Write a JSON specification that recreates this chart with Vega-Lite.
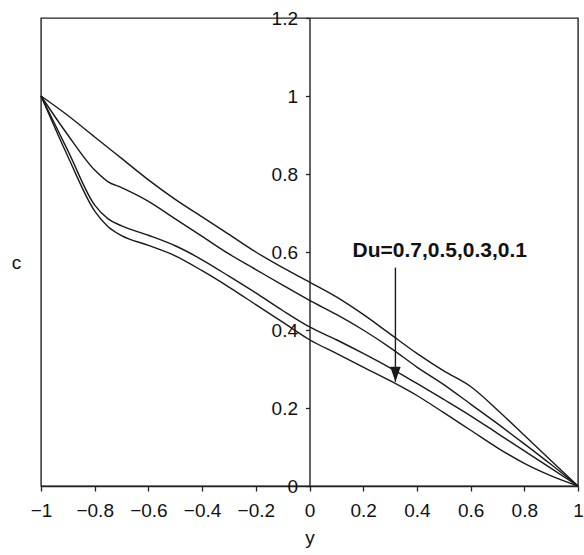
{
  "$schema": "https://vega.github.io/schema/vega-lite/v6.json",
  "width": 537,
  "height": 468,
  "autosize": {"type": "none"},
  "padding": {"left": 41, "top": 18, "right": 6, "bottom": 69},
  "background": "white",
  "config": {
    "view": {"stroke": "#222", "strokeWidth": 1.4},
    "font": "Liberation Sans",
    "axis": {"labelFont": "Liberation Sans", "titleFont": "Liberation Sans", "labelColor": "#111", "titleColor": "#111", "grid": false}
  },
  "datasets": {
    "curves": [
      {"y": -1, "c": 1.0, "s": "Du=0.7"}, {"y": -0.9, "c": 0.95, "s": "Du=0.7"}, {"y": -0.8, "c": 0.895, "s": "Du=0.7"}, {"y": -0.7, "c": 0.84, "s": "Du=0.7"}, {"y": -0.6, "c": 0.785, "s": "Du=0.7"}, {"y": -0.5, "c": 0.735, "s": "Du=0.7"}, {"y": -0.4, "c": 0.69, "s": "Du=0.7"}, {"y": -0.3, "c": 0.645, "s": "Du=0.7"}, {"y": -0.2, "c": 0.6, "s": "Du=0.7"}, {"y": -0.1, "c": 0.56, "s": "Du=0.7"}, {"y": 0, "c": 0.523, "s": "Du=0.7"}, {"y": 0.1, "c": 0.485, "s": "Du=0.7"}, {"y": 0.2, "c": 0.44, "s": "Du=0.7"}, {"y": 0.3, "c": 0.39, "s": "Du=0.7"}, {"y": 0.4, "c": 0.34, "s": "Du=0.7"}, {"y": 0.5, "c": 0.295, "s": "Du=0.7"}, {"y": 0.6, "c": 0.255, "s": "Du=0.7"}, {"y": 0.7, "c": 0.195, "s": "Du=0.7"}, {"y": 0.8, "c": 0.13, "s": "Du=0.7"}, {"y": 0.9, "c": 0.065, "s": "Du=0.7"}, {"y": 1, "c": 0.0, "s": "Du=0.7"},
      {"y": -1, "c": 1.0, "s": "Du=0.5"}, {"y": -0.9, "c": 0.9, "s": "Du=0.5"}, {"y": -0.8, "c": 0.81, "s": "Du=0.5"}, {"y": -0.75, "c": 0.78, "s": "Du=0.5"}, {"y": -0.7, "c": 0.765, "s": "Du=0.5"}, {"y": -0.6, "c": 0.73, "s": "Du=0.5"}, {"y": -0.5, "c": 0.685, "s": "Du=0.5"}, {"y": -0.4, "c": 0.64, "s": "Du=0.5"}, {"y": -0.3, "c": 0.595, "s": "Du=0.5"}, {"y": -0.2, "c": 0.555, "s": "Du=0.5"}, {"y": -0.1, "c": 0.515, "s": "Du=0.5"}, {"y": 0, "c": 0.476, "s": "Du=0.5"}, {"y": 0.1, "c": 0.44, "s": "Du=0.5"}, {"y": 0.2, "c": 0.4, "s": "Du=0.5"}, {"y": 0.3, "c": 0.355, "s": "Du=0.5"}, {"y": 0.4, "c": 0.305, "s": "Du=0.5"}, {"y": 0.5, "c": 0.26, "s": "Du=0.5"}, {"y": 0.6, "c": 0.21, "s": "Du=0.5"}, {"y": 0.7, "c": 0.16, "s": "Du=0.5"}, {"y": 0.8, "c": 0.108, "s": "Du=0.5"}, {"y": 0.9, "c": 0.055, "s": "Du=0.5"}, {"y": 1, "c": 0.0, "s": "Du=0.5"},
      {"y": -1, "c": 1.0, "s": "Du=0.3"}, {"y": -0.9, "c": 0.86, "s": "Du=0.3"}, {"y": -0.8, "c": 0.72, "s": "Du=0.3"}, {"y": -0.75, "c": 0.685, "s": "Du=0.3"}, {"y": -0.7, "c": 0.667, "s": "Du=0.3"}, {"y": -0.6, "c": 0.643, "s": "Du=0.3"}, {"y": -0.5, "c": 0.616, "s": "Du=0.3"}, {"y": -0.4, "c": 0.58, "s": "Du=0.3"}, {"y": -0.3, "c": 0.538, "s": "Du=0.3"}, {"y": -0.2, "c": 0.495, "s": "Du=0.3"}, {"y": -0.1, "c": 0.45, "s": "Du=0.3"}, {"y": 0, "c": 0.408, "s": "Du=0.3"}, {"y": 0.1, "c": 0.375, "s": "Du=0.3"}, {"y": 0.2, "c": 0.34, "s": "Du=0.3"}, {"y": 0.3, "c": 0.303, "s": "Du=0.3"}, {"y": 0.4, "c": 0.263, "s": "Du=0.3"}, {"y": 0.5, "c": 0.222, "s": "Du=0.3"}, {"y": 0.6, "c": 0.18, "s": "Du=0.3"}, {"y": 0.7, "c": 0.135, "s": "Du=0.3"}, {"y": 0.8, "c": 0.09, "s": "Du=0.3"}, {"y": 0.9, "c": 0.045, "s": "Du=0.3"}, {"y": 1, "c": 0.0, "s": "Du=0.3"},
      {"y": -1, "c": 1.0, "s": "Du=0.1"}, {"y": -0.9, "c": 0.845, "s": "Du=0.1"}, {"y": -0.8, "c": 0.705, "s": "Du=0.1"}, {"y": -0.75, "c": 0.665, "s": "Du=0.1"}, {"y": -0.7, "c": 0.642, "s": "Du=0.1"}, {"y": -0.6, "c": 0.617, "s": "Du=0.1"}, {"y": -0.5, "c": 0.59, "s": "Du=0.1"}, {"y": -0.4, "c": 0.552, "s": "Du=0.1"}, {"y": -0.3, "c": 0.51, "s": "Du=0.1"}, {"y": -0.2, "c": 0.465, "s": "Du=0.1"}, {"y": -0.1, "c": 0.42, "s": "Du=0.1"}, {"y": 0, "c": 0.375, "s": "Du=0.1"}, {"y": 0.1, "c": 0.34, "s": "Du=0.1"}, {"y": 0.2, "c": 0.305, "s": "Du=0.1"}, {"y": 0.3, "c": 0.27, "s": "Du=0.1"}, {"y": 0.4, "c": 0.232, "s": "Du=0.1"}, {"y": 0.5, "c": 0.188, "s": "Du=0.1"}, {"y": 0.6, "c": 0.143, "s": "Du=0.1"}, {"y": 0.7, "c": 0.098, "s": "Du=0.1"}, {"y": 0.8, "c": 0.058, "s": "Du=0.1"}, {"y": 0.9, "c": 0.026, "s": "Du=0.1"}, {"y": 1, "c": 0.0, "s": "Du=0.1"}
    ],
    "arrow": [{"x": 0.32, "top": 0.56, "tip": 0.267}],
    "label": [{"x": 0.16, "c": 0.603, "text": "Du=0.7,0.5,0.3,0.1"}]
  },
  "layer": [
    {
      "data": {"name": "curves"},
      "mark": {"type": "line", "color": "#1a1a1a", "strokeWidth": 1.4, "interpolate": "monotone"},
      "encoding": {
        "x": {
          "field": "y", "type": "quantitative",
          "scale": {"domain": [-1, 1], "nice": false, "zero": false},
          "axis": {
            "orient": "bottom", "values": [-1, -0.8, -0.6, -0.4, -0.2, 0, 0.2, 0.4, 0.6, 0.8, 1],
            "format": "~g", "labelFlush": false, "labelFontSize": 19, "labelPadding": 10,
            "tickSize": 5, "tickColor": "#222", "tickWidth": 1.3, "domainColor": "#222", "domainWidth": 1.4,
            "title": "y", "titleFontSize": 19, "titleFontWeight": "normal", "titlePadding": 8
          }
        },
        "y": {
          "field": "c", "type": "quantitative",
          "scale": {"domain": [0, 1.2], "nice": false},
          "axis": {
            "orient": "left", "offset": -268.5, "values": [0, 0.2, 0.4, 0.6, 0.8, 1, 1.2],
            "format": "~g", "labelFontSize": 19, "labelPadding": 8,
            "tickSize": 4, "tickColor": "#222", "tickWidth": 1.3, "domainColor": "#222", "domainWidth": 1.4,
            "title": "c", "titleAngle": 0, "titleFontSize": 19, "titleFontWeight": "normal",
            "titleX": -293.5, "titleY": 244, "titleAlign": "center", "titleBaseline": "middle"
          }
        },
        "detail": {"field": "s", "type": "nominal"}
      }
    },
    {
      "data": {"name": "arrow"},
      "mark": {"type": "rule", "color": "#1a1a1a", "strokeWidth": 1.4},
      "encoding": {
        "x": {"field": "x", "type": "quantitative"},
        "y": {"field": "top", "type": "quantitative"},
        "y2": {"field": "tip"}
      }
    },
    {
      "data": {"name": "arrow"},
      "mark": {"type": "point", "shape": "M -0.35 -1 L 0.35 -1 L 0 0 Z", "filled": true, "color": "#1a1a1a", "size": 900, "opacity": 1},
      "encoding": {
        "x": {"field": "x", "type": "quantitative"},
        "y": {"field": "tip", "type": "quantitative"}
      }
    },
    {
      "data": {"name": "label"},
      "mark": {"type": "text", "align": "left", "baseline": "middle", "fontSize": 21, "fontWeight": "bold", "font": "Liberation Sans", "color": "#111"},
      "encoding": {
        "x": {"field": "x", "type": "quantitative"},
        "y": {"field": "c", "type": "quantitative"},
        "text": {"field": "text"}
      }
    }
  ]
}
